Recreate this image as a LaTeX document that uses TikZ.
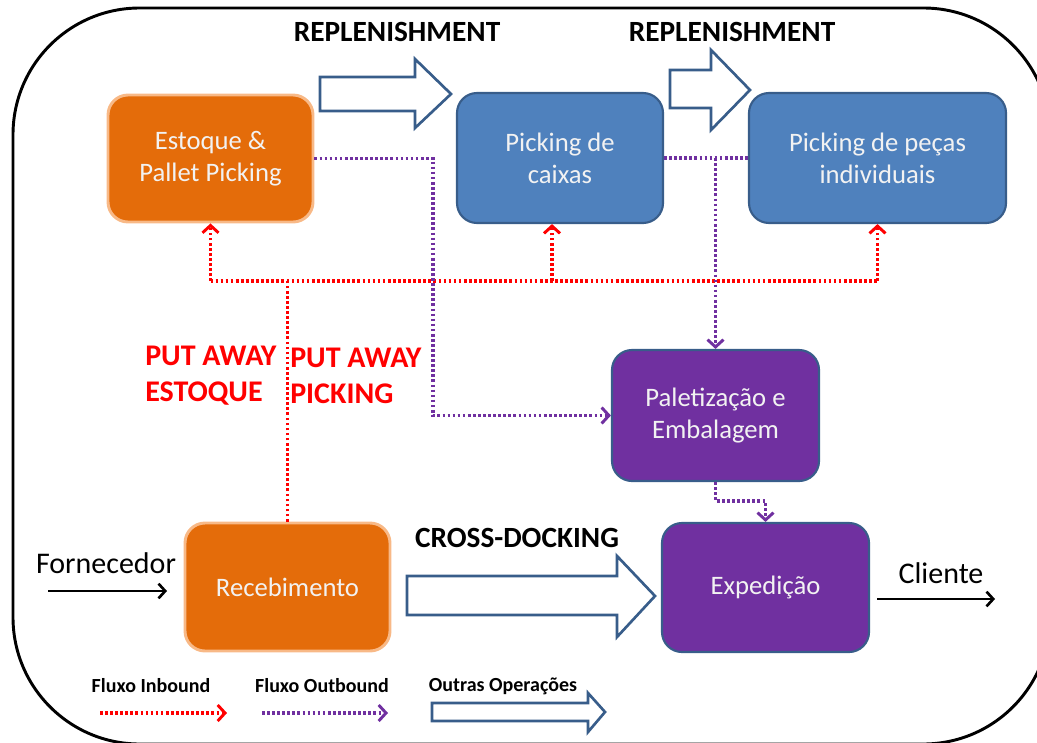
\documentclass[tikz,border=0pt]{standalone}
\usepackage{fontspec}
\setmainfont{Carlito}
\usetikzlibrary{arrows.meta,calc}
\definecolor{orangebox}{RGB}{228,108,10}
\definecolor{orangeglow}{RGB}{248,185,135}
\definecolor{bluebox}{RGB}{79,129,189}
\definecolor{blueline}{RGB}{56,93,138}
\definecolor{purplebox}{RGB}{112,48,160}
\definecolor{inred}{RGB}{255,0,0}
\definecolor{outpurple}{RGB}{112,48,160}
\definecolor{boxtext}{RGB}{242,242,242}
\newlength\upx
\setlength\upx{0.75pt}
\begin{document}
\begin{tikzpicture}[x=0.75pt,y=-0.75pt,
  box/.style={rounded corners=15pt, align=center, text=boxtext, inner sep=0pt,
    font=\fontsize{20}{24}\selectfont},
  orangenode/.style={box, fill=orangebox, draw=orangeglow, line width=2.2pt},
  bluenode/.style={box, fill=bluebox, draw=blueline, line width=1.6pt},
  purplenode/.style={box, fill=purplebox, draw=blueline, line width=1.6pt},
  flowtip/.style={-{Straight Barb[length=5.5pt,width=12pt,line width=2.2pt]}},
  inb/.style={draw=inred, line width=2.6pt, dash pattern=on 2pt off 1.8pt},
  outb/.style={draw=outpurple, line width=2.6pt, dash pattern=on 2pt off 1.8pt},
  blockarrow/.style={draw=blueline, fill=white, line width=2pt, line join=miter},
  title/.style={font=\fontsize{22}{26}\selectfont\bfseries},
  putaway/.style={font=\fontsize{22.5}{27}\selectfont\bfseries, text=inred, align=left, anchor=west, inner sep=0pt},
  plain/.style={font=\fontsize{22.5}{27}\selectfont},
  legend/.style={font=\fontsize{15}{18}\selectfont\bfseries},
  solidarrow/.style={line width=2pt, -{Straight Barb[length=5pt,width=11pt,line width=2pt]}}
]
\useasboundingbox (0,0) rectangle (1037,742);

% outer frame
\draw[line width=2.2pt, rounded corners=95pt] (13,8) rectangle (1050,744);

% process boxes
\node[orangenode, minimum width=205\upx, minimum height=127\upx] (est) at (210.5,158.5) {Estoque \&\\Pallet Picking};
\node[bluenode, minimum width=206\upx, minimum height=130\upx] (cx) at (560,158) {Picking de\\caixas};
\node[bluenode, minimum width=257\upx, minimum height=130\upx] (pc) at (877.5,158) {Picking de peças\\individuais};
\node[purplenode, minimum width=207\upx, minimum height=131\upx] (pal) at (715.5,415.5) {Paletização e\\Embalagem};
\node[purplenode, minimum width=207\upx, minimum height=129\upx] (exp) at (765.5,587.5) {Expedição};
\node[orangenode, minimum width=205\upx, minimum height=128\upx] (rec) at (287.5,587) {Recebimento};

% block arrows
\draw[blockarrow] (320,77) -- (415,77) -- (415,59) -- (451,94) -- (415,128) -- (415,111) -- (320,111) -- cycle;
\draw[blockarrow] (670,70) -- (711,70) -- (711,50) -- (750,90) -- (711,130) -- (711,108) -- (670,108) -- cycle;
\draw[blockarrow] (407,576) -- (617,576) -- (617,556) -- (655,596) -- (617,637) -- (617,615) -- (407,615) -- cycle;
\draw[blockarrow] (432,703) -- (588,703) -- (588,693) -- (605,712) -- (588,732) -- (588,721) -- (432,721) -- cycle;

% titles
\node[title] (rep1) at (397,32) {REPLENISHMENT};
\node[title] (rep2) at (732,32) {REPLENISHMENT};
\node[title] (cross) at (517,538) {CROSS-DOCKING};
\node[putaway] (pa1) at (145,376) {PUT AWAY\\ESTOQUE};
\node[putaway] (pa2) at (290,376) {PUT AWAY\\PICKING};

% inbound flow (put away)
\coordinate (hub) at (287,281);
\coordinate (cxin) at ($(cx.south)+(-8,0)$);
\draw[inb] (rec.north) -- (rec.north |- hub);
\draw[inb] (hub -| est.south) -- (hub -| pc.south);
\draw[inb, flowtip] (hub -| est.south) -- (est.south);
\draw[inb, flowtip] (hub -| cxin) -- (cxin);
\draw[inb, flowtip] (hub -| pc.south) -- (pc.south);

% outbound flow
\coordinate (k1) at (433,300);
\draw[outb, flowtip] (est.east) -| (k1) |- (pal.west);
\draw[outb] (cx.east) -- (pc.west);
\draw[outb, flowtip] (cx.east -| pal.north) -- (pal.north);
\coordinate (k2) at ($(exp.north)+(0,-21)$);
\draw[outb, flowtip] (pal.south) |- (k2) -- (exp.north);

% supplier and customer
\node[plain] (forn) at (106,563) {Fornecedor};
\node[plain] (cli) at (941,573) {Cliente};
\coordinate (f1) at (48,591);
\coordinate (f2) at (167,591);
\coordinate (c1) at (877,599);
\coordinate (c2) at (995,599);
\draw[solidarrow] (f1) -- (f2);
\draw[solidarrow] (c1) -- (c2);

% legend
\node[legend] (lin) at (151,686) {Fluxo Inbound};
\node[legend] (lout) at (322,686) {Fluxo Outbound};
\node[legend] (lop) at (503,686) {Outras Operações};
\coordinate (li1) at (100,713);
\coordinate (li2) at (227,713);
\coordinate (lo1) at (262,713);
\coordinate (lo2) at (388,713);
\draw[inb, flowtip] (li1) -- (li2);
\draw[outb, flowtip] (lo1) -- (lo2);
\end{tikzpicture}
\end{document}
